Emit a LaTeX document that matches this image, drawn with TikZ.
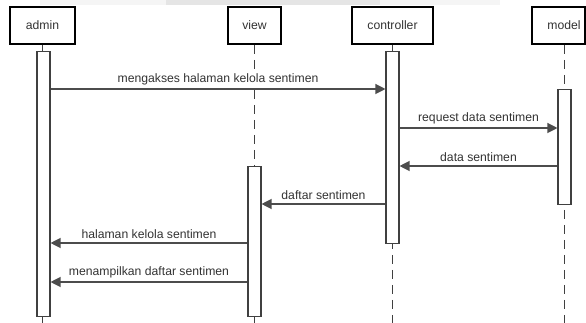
\documentclass[tikz,border=0pt]{standalone}
\usepackage{fontspec}
\setmainfont{Liberation Sans}
\usetikzlibrary{arrows.meta,positioning}

\begin{document}
\begin{tikzpicture}[x=1pt, y=-1pt,
    actor/.style={draw=black, line width=1.6pt, fill=white, minimum width=#1, minimum height=37pt, inner sep=0pt, font=\fontsize{12.2}{14}\selectfont, text=black!80},
    activation/.style={draw=black!75, line width=1.1pt, fill=white, minimum width=13pt, minimum height=#1, inner sep=0pt, anchor=north},
    lifeline/.style={draw=black!75, line width=1.1pt, dash pattern=on 9pt off 6pt},
    msg/.style={-{Triangle[length=10pt,width=10pt]}, draw=black!70, line width=1.2pt},
    msg_label/.style={midway, above=2.5pt, inner sep=0.8pt, fill=white, font=\fontsize{12.2}{14}\selectfont, text=black!80}
]
    \useasboundingbox (0,0) rectangle (586,323);
    % faint band along the top edge
    \fill[black!4] (40,0) rectangle (500,5);
    \fill[black!10] (166,0) rectangle (380,5);

    % Participants
    \node[actor=65pt] (admin) at (42.5,25.5) {admin};
    \node[actor=53pt] (view) at (254.5,25.5) {view};
    \node[actor=81pt] (controller) at (392.5,25.5) {controller};
    \node[actor=53pt] (model) at (558.5,25.5) {\hspace*{11pt}model};

    \coordinate (bottom) at (0,323);
    \coordinate (modelLine) at (564.5,0);

    % Lifelines
    \draw[lifeline] (admin.south) -- (admin.south |- bottom);
    \draw[lifeline] (view.south) -- (view.south |- bottom);
    \draw[lifeline] (controller.south) -- (controller.south |- bottom);
    \draw[lifeline] (modelLine |- model.south) -- (modelLine |- bottom);

    % Activations
    \node[activation=265pt] (actAdmin) at (43.5,51) {};
    \node[activation=150pt] (actView) at (254.5,166) {};
    \node[activation=192pt] (actController) at (392.5,51) {};
    \node[activation=115pt] (actModel) at (564.5,89) {};

    % Messages
    \coordinate (m1) at (0,89);
    \coordinate (m2) at (0,128);
    \coordinate (m3) at (0,166);
    \coordinate (m4) at (0,204);
    \coordinate (m5) at (0,243);
    \coordinate (m6) at (0,282);

    \draw[msg] (actAdmin.east |- m1) -- (actController.west |- m1) node[msg_label] {mengakses halaman kelola sentimen};
    \draw[msg] (actController.east |- m2) -- (actModel.west |- m2) node[msg_label] {request data sentimen};
    \draw[msg] (actModel.west |- m3) -- (actController.east |- m3) node[msg_label] {data sentimen};
    \draw[msg] (actController.west |- m4) -- (actView.east |- m4) node[msg_label] {daftar sentimen};
    \draw[msg] (actView.west |- m5) -- (actAdmin.east |- m5) node[msg_label] {halaman kelola sentimen};
    \draw[msg] (actView.west |- m6) -- (actAdmin.east |- m6) node[msg_label] {menampilkan daftar sentimen};

\end{tikzpicture}
\end{document}
